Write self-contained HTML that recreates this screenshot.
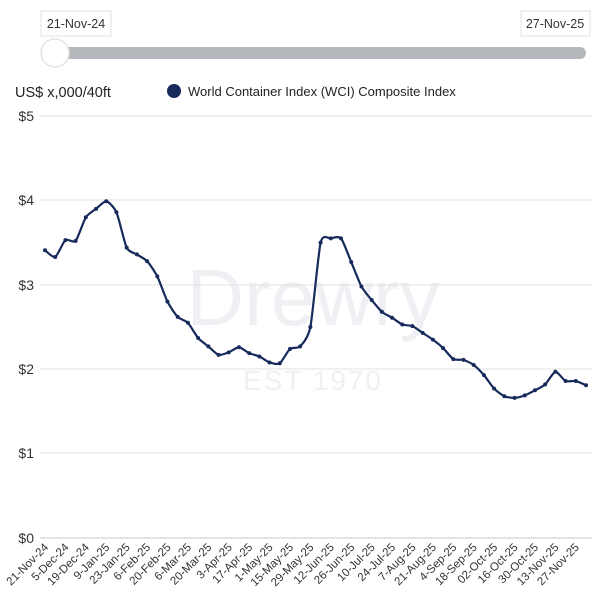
<!DOCTYPE html>
<html><head><meta charset="utf-8"><style>
body{margin:0;background:#fff;}
svg{display:block;font-family:"Liberation Sans",sans-serif;}
</style></head><body>
<svg width="600" height="608" viewBox="0 0 600 608" xmlns="http://www.w3.org/2000/svg">
<rect x="41" y="11" width="70" height="25" fill="#fff" stroke="#e2e2e2"/>
<text x="76" y="28" font-size="12.5" text-anchor="middle" fill="#333">21-Nov-24</text>
<rect x="521" y="11" width="69" height="25" fill="#fff" stroke="#e2e2e2"/>
<text x="555" y="28" font-size="12.5" text-anchor="middle" fill="#333">27-Nov-25</text>
<line x1="55" y1="53" x2="580" y2="53" stroke="#b4b7bb" stroke-width="12" stroke-linecap="round"/>
<circle cx="55" cy="53" r="14" fill="#fff" stroke="#e4e4e4" stroke-width="1.5"/>
<text x="15" y="97" font-size="14.5" fill="#222">US$ x,000/40ft</text>
<circle cx="174" cy="91" r="7" fill="#172a5c"/>
<text x="188" y="96" font-size="13" fill="#222">World Container Index (WCI) Composite Index</text>
<text x="313" y="325" font-size="80" text-anchor="middle" fill="#eef0f3">Drewry</text>
<text x="313" y="390" font-size="28" text-anchor="middle" fill="#eef0f3" letter-spacing="2">EST 1970</text>
<g stroke="#e0e0e0" stroke-width="1">
<line x1="40" y1="116" x2="592" y2="116"/><line x1="40" y1="200" x2="592" y2="200"/>
<line x1="40" y1="285" x2="592" y2="285"/><line x1="40" y1="369" x2="592" y2="369"/>
<line x1="40" y1="453" x2="592" y2="453"/><line x1="40" y1="538" x2="592" y2="538" stroke="#c8c8c8"/>
</g>
<g font-size="14" fill="#333" text-anchor="end">
<text x="34" y="121">$5</text><text x="34" y="205">$4</text><text x="34" y="290">$3</text>
<text x="34" y="374">$2</text><text x="34" y="458">$1</text><text x="34" y="543">$0</text>
</g>
<g id="chart"></g>
</svg>
<script>
const v=[3.41,3.33,3.53,3.52,3.80,3.90,3.99,3.86,3.44,3.36,3.28,3.10,2.80,2.62,2.55,2.37,2.27,2.17,2.20,2.26,2.19,2.15,2.08,2.07,2.24,2.27,2.50,3.50,3.55,3.55,3.27,2.98,2.82,2.68,2.61,2.53,2.51,2.43,2.35,2.25,2.12,2.11,2.05,1.93,1.77,1.68,1.66,1.69,1.75,1.82,1.97,1.86,1.86,1.81];
const labels=["21-Nov-24","5-Dec-24","19-Dec-24","9-Jan-25","23-Jan-25","6-Feb-25","20-Feb-25","6-Mar-25","20-Mar-25","3-Apr-25","17-Apr-25","1-May-25","15-May-25","29-May-25","12-Jun-25","26-Jun-25","10-Jul-25","24-Jul-25","7-Aug-25","21-Aug-25","4-Sep-25","18-Sep-25","02-Oct-25","16-Oct-25","30-Oct-25","13-Nov-25","27-Nov-25"];
const X=i=>45+i*(541/53),Y=a=>538-84.4*a;
const P=v.map((a,i)=>[X(i),Y(a)]);
let d="M"+P[0][0]+","+P[0][1];
for(let i=0;i<P.length-1;i++){const p0=P[Math.max(i-1,0)],p1=P[i],p2=P[i+1],p3=P[Math.min(i+2,P.length-1)];
const t=0.11;d+=` C${p1[0]+(p2[0]-p0[0])*t},${p1[1]+(p2[1]-p0[1])*t} ${p2[0]-(p3[0]-p1[0])*t},${p2[1]-(p3[1]-p1[1])*t} ${p2[0]},${p2[1]}`;}
let s=`<path d="${d}" fill="none" stroke="#172a5c" stroke-width="2.2"/>`;
P.forEach(p=>s+=`<circle cx="${p[0]}" cy="${p[1]}" r="2" fill="#172a5c"/>`);
labels.forEach((l,k)=>{const x=X(k*2)+4,y=548;s+=`<text x="${x}" y="${y}" font-size="11.5" fill="#333" text-anchor="end" transform="rotate(-45 ${x} ${y})">${l}</text>`;});
document.getElementById("chart").innerHTML=s;
</script>
</body></html>
